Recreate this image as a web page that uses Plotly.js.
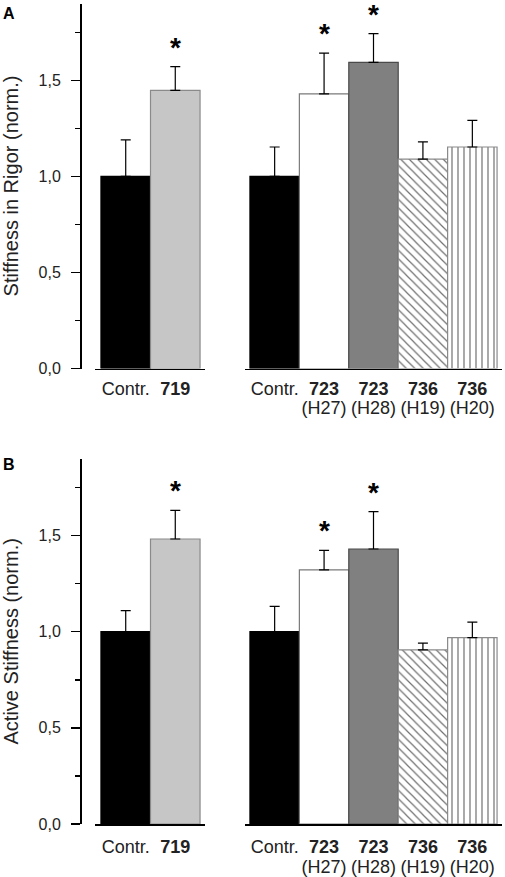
<!DOCTYPE html>
<html>
<head>
<meta charset="utf-8">
<script src="https://cdn.plot.ly/plotly-3.0.1.min.js"></script>
<style>
  html, body { margin: 0; padding: 0; background: #fff; }
  #chart { width: 505px; height: 877px; }
</style>
</head>
<body>
<div id="chart"></div>
<script>
// ---------- data ----------
const catsLeft  = ['Contr.', '719'];
const catsRight = ['Contr.', '723 (H27)', '723 (H28)', '736 (H19)', '736 (H20)'];
const tickTextLeft    = ['Contr.', '<b>719</b>'];
const tickTextRight   = ['Contr.', '<b>723</b>', '<b>723</b>', '<b>736</b>', '<b>736</b>'];
const tickTextRightSub = ['', '(H27)', '(H28)', '(H19)', '(H20)'];

// Panel A: stiffness in rigor (normalised)
const rigorLeft      = [1.00, 1.448];
const rigorLeftErr   = [0.19, 0.123];
const rigorRight     = [1.00, 1.430, 1.594, 1.090, 1.153];
const rigorRightErr  = [0.153, 0.212, 0.149, 0.090, 0.139];
const rigorStarLeft  = [false, true];
const rigorStarRight = [false, true, true, false, false];

// Panel B: active stiffness (normalised)
const activeLeft      = [1.00, 1.482];
const activeLeftErr   = [0.109, 0.149];
const activeRight     = [1.00, 1.321, 1.430, 0.905, 0.969];
const activeRightErr  = [0.132, 0.102, 0.194, 0.036, 0.081];
const activeStarLeft  = [false, true];
const activeStarRight = [false, true, true, false, false];

const yTickVals = [0, 0.5, 1.0, 1.5];
const yTickText = ['0,0', '0,5', '1,0', '1,5'];
const titleA = 'Stiffness in Rigor (norm.)';
const titleB = 'Active Stiffness (norm.)';

// ---------- styles ----------
const W = 505, H = 877;
const FONT = 'Liberation Sans, Arial, sans-serif';
const leftStyle = [
  { color: '#000000', line: '#000000', shape: '' },
  { color: '#c6c6c6', line: '#8a8a8a', shape: '' },
];
const rightStyle = [
  { color: '#000000', line: '#000000', shape: '' },
  { color: '#ffffff', line: '#7a7a7a', shape: '' },
  { color: '#808080', line: '#4a4a4a', shape: '' },
  { color: '#707070', line: '#8a8a8a', shape: '\\' },
  { color: '#707070', line: '#8a8a8a', shape: '|' },
];

// xaxes: list of x axis ids per bar (right panels use an overlay axis that
// carries the second line of the category labels)
function barTraces(cats, vals, errs, styles, xaxes, ya) {
  return cats.map((c, i) => {
    const s = styles[i];
    const marker = { color: s.color, line: { color: s.line, width: 1.2 } };
    if (s.shape) {
      marker.pattern = { shape: s.shape, fgcolor: s.color, bgcolor: '#ffffff', size: 6, solidity: 0.2, fillmode: 'replace' };
    }
    return {
      type: 'bar', x: [i], y: [vals[i]], xaxis: xaxes[i], yaxis: ya,
      width: 1, showlegend: false, hoverinfo: 'skip', name: c,
      marker: marker,
      error_y: {
        type: 'data', symmetric: false, array: [errs[i]], arrayminus: [0],
        color: '#000000', thickness: 1.2, width: 5
      }
    };
  });
}

const data = [
  ...barTraces(catsLeft, rigorLeft, rigorLeftErr, leftStyle, ['x', 'x'], 'y'),
  ...barTraces(catsRight, rigorRight, rigorRightErr, rightStyle, ['x2', 'x2', 'x2', 'x5', 'x5'], 'y2'),
  ...barTraces(catsLeft, activeLeft, activeLeftErr, leftStyle, ['x3', 'x3'], 'y3'),
  ...barTraces(catsRight, activeRight, activeRightErr, rightStyle, ['x4', 'x4', 'x4', 'x6', 'x6'], 'y4'),
];

// ---------- layout ----------
const px = v => v / W;
const py = v => 1 - v / H;
const domA = [py(368.5), py(3.5)];
const domB = [py(824.0), py(458.6)];
const yRange = [0, 1.9];
const leftRange = [-0.62, 1.60];
const rightRange = [-0.60, 4.60];
const lenA = 3, lenB = 6, lineGap = 20;

function xAxis(domain, anchor, cats, ticktext, range, len) {
  return {
    domain: domain, anchor: anchor, range: range,
    showline: true, linecolor: '#000', linewidth: 1.5, mirror: false,
    showgrid: false, zeroline: false, fixedrange: true,
    tickmode: 'array', tickvals: cats.map((_, i) => i), ticktext: ticktext,
    ticks: 'outside', ticklen: len, tickcolor: 'rgba(0,0,0,0)',
    tickfont: { family: FONT, size: 18, color: '#222' }
  };
}
function xAxisSub(over, anchor, cats, ticktext, range, len) {
  return {
    overlaying: over, anchor: anchor, side: 'bottom', range: range,
    showline: false, showgrid: false, zeroline: false, fixedrange: true,
    tickmode: 'array', tickvals: cats.map((_, i) => i), ticktext: ticktext,
    ticks: 'outside', ticklen: len + lineGap, tickcolor: 'rgba(0,0,0,0)',
    tickfont: { family: FONT, size: 18, color: '#222' }
  };
}
function yAxisMain(domain, title) {
  return {
    domain: domain, anchor: 'free', position: px(80), range: yRange,
    showline: true, linecolor: '#000', linewidth: 1.5,
    showgrid: false, zeroline: false, fixedrange: true,
    tickmode: 'array', tickvals: yTickVals, ticktext: yTickText,
    ticks: 'outside', ticklen: 9, tickwidth: 1.5, tickcolor: '#000',
    ticklabelstandoff: 7,
    minor: { dtick: 0.25, ticks: 'outside', ticklen: 5, tickwidth: 1.5, tickcolor: '#000', showgrid: false },
    tickfont: { family: FONT, size: 16, color: '#222' },
    title: { text: title, font: { family: FONT, size: 20, color: '#222' }, standoff: 14 },
    automargin: false
  };
}
function yAxisHidden(domain, anchor) {
  return { domain: domain, anchor: anchor, range: yRange, visible: false, fixedrange: true };
}

function stars(vals, errs, flags, xref, yref) {
  const out = [];
  vals.forEach((v, i) => {
    if (!flags[i]) return;
    out.push({
      x: i, y: v + errs[i], xref: xref, yref: yref,
      text: '<b>*</b>', showarrow: false, yanchor: 'bottom', yshift: 2,
      font: { family: FONT, size: 28, color: '#000' }
    });
  });
  return out;
}

const annotations = [
  ...stars(rigorLeft, rigorLeftErr, rigorStarLeft, 'x', 'y'),
  ...stars(rigorRight, rigorRightErr, rigorStarRight, 'x2', 'y2'),
  ...stars(activeLeft, activeLeftErr, activeStarLeft, 'x3', 'y3'),
  ...stars(activeRight, activeRightErr, activeStarRight, 'x4', 'y4'),
  { text: '<b>A</b>', xref: 'paper', yref: 'paper', x: px(1), y: py(3), xanchor: 'left', yanchor: 'top',
    showarrow: false, font: { family: FONT, size: 16, color: '#000' } },
  { text: '<b>B</b>', xref: 'paper', yref: 'paper', x: px(1), y: py(454), xanchor: 'left', yanchor: 'top',
    showarrow: false, font: { family: FONT, size: 16, color: '#000' } },
];

const layout = {
  width: W, height: H,
  margin: { l: 0, r: 0, t: 0, b: 0 },
  paper_bgcolor: '#fff', plot_bgcolor: 'rgba(0,0,0,0)',
  barmode: 'overlay', bargap: 0,
  font: { family: FONT, color: '#222' },
  xaxis:  xAxis([px(95), px(205)], 'y', catsLeft, tickTextLeft, leftRange, lenA),
  yaxis:  yAxisMain(domA, titleA),
  xaxis2: xAxis([px(245), px(502)], 'y2', catsRight, tickTextRight, rightRange, lenA),
  yaxis2: yAxisHidden(domA, 'x2'),
  xaxis3: xAxis([px(95), px(205)], 'y3', catsLeft, tickTextLeft, leftRange, lenB),
  yaxis3: yAxisMain(domB, titleB),
  xaxis4: xAxis([px(245), px(502)], 'y4', catsRight, tickTextRight, rightRange, lenB),
  yaxis4: yAxisHidden(domB, 'x4'),
  xaxis5: xAxisSub('x2', 'y2', catsRight, tickTextRightSub, rightRange, lenA),
  xaxis6: xAxisSub('x4', 'y4', catsRight, tickTextRightSub, rightRange, lenB),
  annotations: annotations,
  showlegend: false
};

Plotly.newPlot('chart', data, layout, { staticPlot: true, displayModeBar: false });
</script>
</body>
</html>
